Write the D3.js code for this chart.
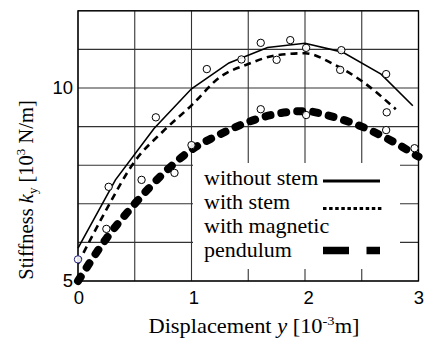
<!DOCTYPE html>
<html><head><meta charset="utf-8">
<script src="https://cdn.jsdelivr.net/npm/d3@7"></script>
<style>
html,body{margin:0;padding:0;background:#fff;}
svg{display:block;}
.serif{font-family:"Liberation Serif","Times New Roman",serif;}
.sans{font-family:"Liberation Sans",Arial,sans-serif;}
</style></head>
<body>
<svg id="c" width="425" height="338"></svg>
<script>
// ---- data ----
const xTickValues = [0, 1, 2, 3];
const xTickLabels = ["0", "1", "2", "3"];
const yTickValues = [5, 10];
const yTickLabels = ["5", "10"];
const xGrid = [0, 0.5, 1, 1.5, 2, 2.5, 3];
const yGrid = [5, 6, 7, 8, 9, 10, 11, 12];

const withoutStemX = [0, 0.33, 0.67, 1.0, 1.33, 1.67, 2.0, 2.33, 2.67, 2.95];
const withoutStemY = [5.85, 7.62, 8.95, 9.98, 10.65, 11.05, 11.16, 10.93, 10.36, 9.54];

const withStemX = [0, 0.25, 0.5, 0.75, 1.0, 1.25, 1.5, 1.75, 2.0, 2.25, 2.5, 2.8];
const withStemY = [5.45, 6.85, 8.1, 8.88, 9.55, 10.28, 10.62, 10.85, 10.9, 10.62, 10.18, 9.45];

const pendulumX = [0, 0.25, 0.5, 0.75, 1.0, 1.25, 1.5, 1.75, 2.0, 2.25, 2.5, 2.75, 3.0];
const pendulumY = [5.0, 6.1, 7.0, 7.78, 8.4, 8.8, 9.12, 9.33, 9.4, 9.25, 9.0, 8.65, 8.22];

const measuredX = [0, 0.25, 0.27, 0.56, 0.686, 0.85, 1.0, 1.135, 1.44, 1.61, 1.61, 1.75, 1.87, 2.01, 2.01, 2.32, 2.31, 2.715, 2.72, 2.715, 2.965];
const measuredY = [5.56, 6.35, 7.44, 7.62, 9.24, 7.8, 8.52, 10.49, 10.74, 11.17, 9.45, 10.73, 11.24, 11.04, 9.3, 10.98, 10.47, 10.36, 9.37, 8.91, 8.44];

const legendLabels = ["without stem", "with stem", "with magnetic", "pendulum"];

// ---- chart ----
const svg = d3.select("#c");
const x = d3.scaleLinear().domain([0, 3]).range([78, 418.5]);
const y = d3.scaleLinear().domain([5, 12]).range([281, 10.8]);

// grid
const g = svg.append("g");
g.selectAll(".gx").data(xGrid).enter().append("line")
  .attr("x1", d => x(d)).attr("x2", d => x(d))
  .attr("y1", y(5)).attr("y2", y(12))
  .attr("stroke", "#333").attr("stroke-width", 1.1);
g.selectAll(".gy").data(yGrid).enter().append("line")
  .attr("x1", x(0)).attr("x2", x(3))
  .attr("y1", d => y(d)).attr("y2", d => y(d))
  .attr("stroke", "#333").attr("stroke-width", 1.1);

// legend background
svg.append("rect").attr("x", 193).attr("y", 163).attr("width", 207).attr("height", 106).attr("fill", "#fff");

// frame
svg.append("rect").attr("x", x(0)).attr("y", y(12)).attr("width", x(3) - x(0)).attr("height", y(5) - y(12))
  .attr("fill", "none").attr("stroke", "#000").attr("stroke-width", 1.3);

// curves
const lineOf = (xs, ys, curve) => d3.line().x(d => x(d[0])).y(d => y(d[1])).curve(curve)(xs.map((v, i) => [v, ys[i]]));

svg.append("path").attr("d", lineOf(pendulumX, pendulumY, d3.curveMonotoneX))
  .attr("fill", "none").attr("stroke", "#000").attr("stroke-width", 8)
  .attr("stroke-dasharray", "5,11").attr("stroke-linecap", "round");

svg.append("path").attr("d", lineOf(withStemX, withStemY, d3.curveMonotoneX))
  .attr("fill", "none").attr("stroke", "#000").attr("stroke-width", 2.6)
  .attr("stroke-dasharray", "7,5");

svg.append("path").attr("d", lineOf(withoutStemX, withoutStemY, d3.curveLinear))
  .attr("fill", "none").attr("stroke", "#000").attr("stroke-width", 1.6);

// measured points
svg.selectAll(".pt").data(measuredX.map((v, i) => [v, measuredY[i]])).enter().append("circle")
  .attr("cx", d => x(d[0])).attr("cy", d => y(d[1])).attr("r", 3.7)
  .attr("fill", "#fff").attr("fill-opacity", 0.9)
  .attr("stroke", (d, i) => i === 0 ? "#22227a" : "#000").attr("stroke-width", 1);

// tick labels
const xLabelPos = [79, 193, 308, 419];
svg.selectAll(".xt").data(xTickValues).enter().append("text")
  .attr("class", "sans").attr("x", (d, i) => Math.min(x(d) + 1 + i * 1.3, 419)).attr("y", 304)
  .attr("text-anchor", "middle").attr("font-size", 18.5).text((d, i) => xTickLabels[i]);
svg.selectAll(".yt").data(yTickValues).enter().append("text")
  .attr("class", "sans").attr("x", 73).attr("y", d => y(d) + 6)
  .attr("text-anchor", "end").attr("font-size", 18.5).text((d, i) => yTickLabels[i]);

// axis titles
const xt = svg.append("text").attr("class", "serif")
  .attr("transform", "translate(254,333) scale(1.12,1)")
  .attr("text-anchor", "middle").attr("font-size", 20);
xt.append("tspan").text("Displacement ");
xt.append("tspan").attr("font-style", "italic").text("y");
xt.append("tspan").text(" [10");
xt.append("tspan").attr("font-size", 13).attr("dy", -8).text("-3");
xt.append("tspan").attr("dy", 8).text("m]");

const yt = svg.append("text").attr("class", "serif")
  .attr("transform", "translate(33,190) rotate(-90)")
  .attr("text-anchor", "middle").attr("font-size", 20.5);
yt.append("tspan").text("Stiffness ");
yt.append("tspan").attr("font-style", "italic").text("k");
yt.append("tspan").attr("font-size", 13).attr("dy", 4).text("y");
yt.append("tspan").attr("dy", -4).text(" [10");
yt.append("tspan").attr("font-size", 13).attr("dy", -8).text("3");
yt.append("tspan").attr("dy", 8).text(" N/m]");

// legend
const ly = [185, 209, 233, 257];
svg.selectAll(".lg").data(legendLabels).enter().append("text")
  .attr("class", "serif")
  .attr("transform", (d, i) => `translate(204,${ly[i]}) scale(1.1,1)`)
  .attr("font-size", 20).text(d => d);
svg.append("line").attr("x1", 323).attr("x2", 380).attr("y1", 181).attr("y2", 181)
  .attr("stroke", "#000").attr("stroke-width", 3.2);
svg.append("line").attr("x1", 323).attr("x2", 383).attr("y1", 208.5).attr("y2", 208.5)
  .attr("stroke", "#000").attr("stroke-width", 3.2).attr("stroke-dasharray", "3.5,2.6");
svg.append("line").attr("x1", 323).attr("x2", 380).attr("y1", 250.5).attr("y2", 250.5)
  .attr("stroke", "#000").attr("stroke-width", 7.5).attr("stroke-dasharray", "26,17.5");
</script>
</body></html>
